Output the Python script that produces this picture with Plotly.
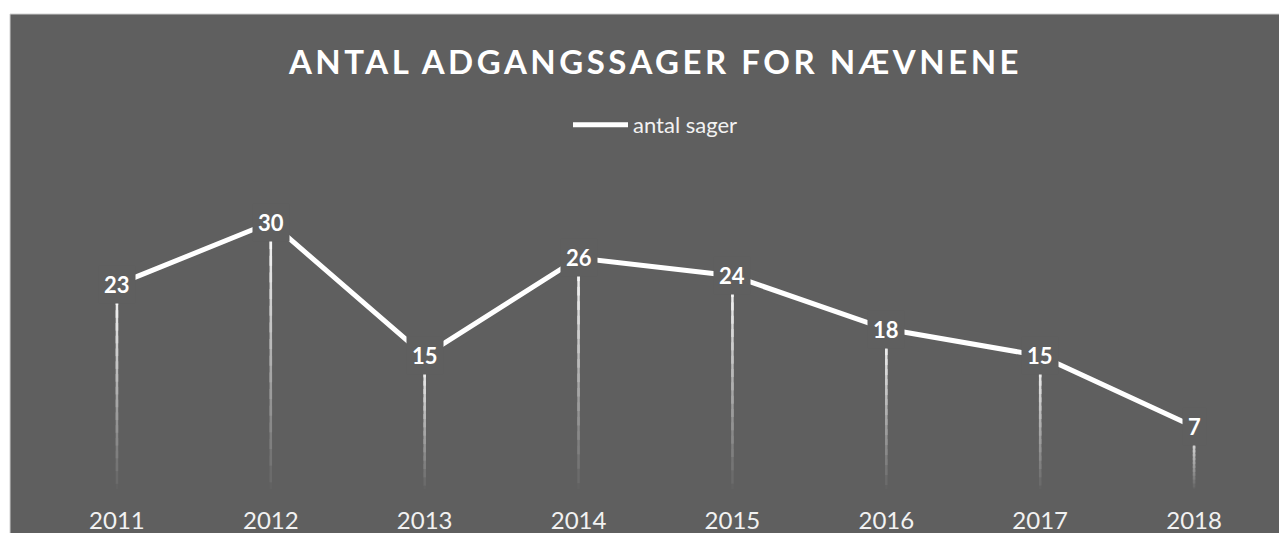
import plotly.graph_objects as go

years = ["2011", "2012", "2013", "2014", "2015", "2016", "2017", "2018"]
antal_sager = [23, 30, 15, 26, 24, 18, 15, 7]
series_name = "antal sager"
title_text = "ANTAL ADGANGSSAGER FOR NÆVNENE"

# page body has an 8px margin; size the figure so the page is exactly 1287x541
W, H = 1271, 525
ML, MR, MT, MB = 32, 8, 170, 44
BG = "#5f5f5f"
FONT = "Lato"

xpos = list(range(len(years)))

fig = go.Figure()

# gradient drop lines (overlapping segments from 0 up to value, brightening upward)
N = 16
top_rgb = (245, 245, 245)
bot_rgb = (98, 98, 98)
for k in range(N):
    f0 = max(0.0, (k - 0.6) / N)
    f1 = (k + 1) / N
    t = k / (N - 1)  # 0 at bottom, 1 at top
    c = tuple(int(bot_rgb[i] + (top_rgb[i] - bot_rgb[i]) * t) for i in range(3))
    xs, ys = [], []
    for xp, v in zip(xpos, antal_sager):
        xs += [xp, xp, None]
        ys += [v * f0, v * f1, None]
    fig.add_trace(go.Scatter(
        x=xs, y=ys, mode="lines",
        line=dict(color="rgb(%d,%d,%d)" % c, width=2.5),
        showlegend=False, hoverinfo="skip"))

fig.add_trace(go.Scatter(
    x=xpos, y=antal_sager, mode="lines", name=series_name,
    line=dict(color="#ffffff", width=5),
))

for xp, v in zip(xpos, antal_sager):
    fig.add_annotation(
        x=xp, y=v, text="<b>%d</b>" % v, showarrow=False,
        font=dict(family=FONT, size=22, color="#ffffff"),
        bgcolor=BG, borderpad=5, xanchor="center", yanchor="middle")

pw = W - ML - MR
ph = H - MT - MB
fig.add_shape(
    type="rect", xref="paper", yref="paper", layer="below",
    x0=(2 - ML) / pw, x1=(W + 10 - ML) / pw,
    y0=(H - MB - (H + 10)) / ph, y1=(H - MB - 6) / ph,
    fillcolor=BG, line=dict(color="#d0d0d0", width=1))

fig.update_layout(
    width=W, height=H,
    margin=dict(l=ML, r=MR, t=MT, b=MB, autoexpand=False),
    paper_bgcolor="#ffffff", plot_bgcolor="rgba(0,0,0,0)",
    title=dict(text='<span style="letter-spacing:3.5px"><b>' + title_text + "</b></span>",
               x=0.5, xanchor="center",
               xref="paper", y=1 - 54 / H, yanchor="middle",
               font=dict(family=FONT, size=33, color="#ffffff")),
    showlegend=True,
    legend=dict(orientation="h", x=0.5, xanchor="center",
                y=(H - MB - 117) / ph, yanchor="middle",
                font=dict(family=FONT, size=22, color="#f2f2f2"),
                bgcolor="rgba(0,0,0,0)", itemwidth=55),
    xaxis=dict(range=[-0.5, len(years) - 0.5], tickmode="array",
               tickvals=xpos, ticktext=years, automargin=False,
               showgrid=False, zeroline=False, showline=False,
               ticks="outside", ticklen=10, tickcolor="rgba(0,0,0,0)",
               tickfont=dict(family=FONT, size=24, color="#f2f2f2"),
               fixedrange=True),
    yaxis=dict(range=[0, 35], visible=False, automargin=False, fixedrange=True),
)

fig.write_html("out.html")
